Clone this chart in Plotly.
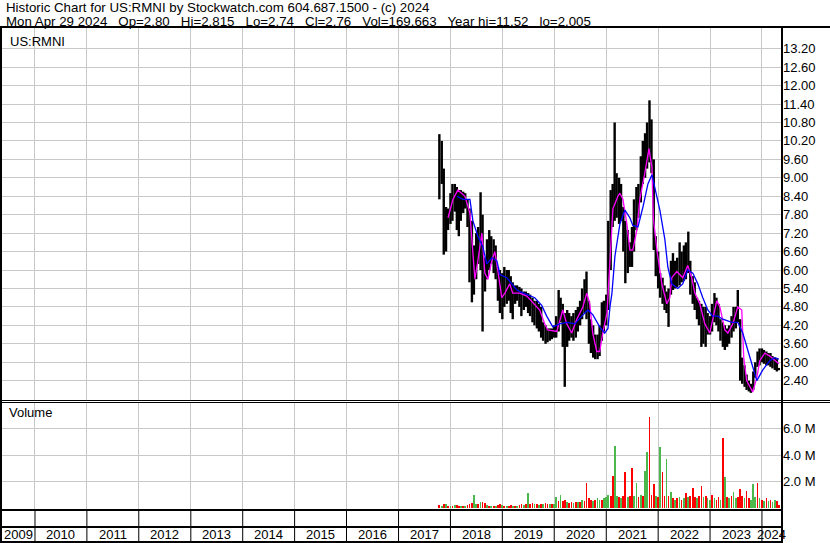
import plotly.graph_objects as go
import pandas as pd

W, H = 830, 543
FONT = "Liberation Sans, Arial, sans-serif"
GRID = "#c8c8c8"

# ---------------- data ----------------
DATES = [
    "2017-10-15", "2017-11-01", "2017-11-15", "2017-12-01", "2017-12-15",
    "2018-01-01", "2018-01-15", "2018-02-01", "2018-02-15", "2018-03-01", "2018-03-15",
    "2018-04-01", "2018-04-15", "2018-05-01", "2018-05-15", "2018-06-01", "2018-06-15",
    "2018-07-01", "2018-07-15", "2018-08-01", "2018-08-15", "2018-09-01", "2018-09-15",
    "2018-10-01", "2018-10-15", "2018-11-01", "2018-11-15", "2018-12-01", "2018-12-15",
    "2019-01-01", "2019-01-15", "2019-02-01", "2019-02-15", "2019-03-01", "2019-03-15",
    "2019-04-01", "2019-04-15", "2019-05-01", "2019-05-15", "2019-06-01", "2019-06-15",
    "2019-07-01", "2019-07-15", "2019-08-01", "2019-08-15", "2019-09-01", "2019-09-15",
    "2019-10-01", "2019-10-15", "2019-11-01", "2019-11-15", "2019-12-01", "2019-12-15",
    "2020-01-01", "2020-01-15", "2020-02-01", "2020-02-15", "2020-03-01", "2020-03-15",
    "2020-04-01", "2020-04-15", "2020-05-01", "2020-05-15", "2020-06-01", "2020-06-15",
    "2020-07-01", "2020-07-15", "2020-08-01", "2020-08-15", "2020-09-01", "2020-09-15",
    "2020-10-01", "2020-10-15", "2020-11-01", "2020-11-15", "2020-12-01", "2020-12-15",
    "2021-01-01", "2021-01-15", "2021-02-01", "2021-02-15", "2021-03-01", "2021-03-15",
    "2021-04-01", "2021-04-15", "2021-05-01", "2021-05-15", "2021-06-01", "2021-06-15",
    "2021-07-01", "2021-07-15", "2021-08-01", "2021-08-15", "2021-09-01", "2021-09-15",
    "2021-10-01", "2021-10-15", "2021-11-01", "2021-11-15", "2021-12-01", "2021-12-15",
    "2022-01-01", "2022-01-15", "2022-02-01", "2022-02-15", "2022-03-01", "2022-03-15",
    "2022-04-01", "2022-04-15", "2022-05-01", "2022-05-15", "2022-06-01", "2022-06-15",
    "2022-07-01", "2022-07-15", "2022-08-01", "2022-08-15", "2022-09-01", "2022-09-15",
    "2022-10-01", "2022-10-15", "2022-11-01", "2022-11-15", "2022-12-01", "2022-12-15",
    "2023-01-01", "2023-01-15", "2023-02-01", "2023-02-15", "2023-03-01", "2023-03-15",
    "2023-04-01", "2023-04-15", "2023-05-01", "2023-05-15", "2023-06-01", "2023-06-15",
    "2023-07-01", "2023-07-15", "2023-08-01", "2023-08-15", "2023-09-01", "2023-09-15",
    "2023-10-01", "2023-10-15", "2023-11-01", "2023-11-15", "2023-12-01", "2023-12-15",
    "2024-01-01", "2024-01-15", "2024-02-01", "2024-02-15", "2024-03-01", "2024-03-15",
    "2024-04-01", "2024-04-15", "2024-04-29",
]

HIGH = [
    10.42, 10.2, 9.3, 8.05, 8.0,
    8.5, 8.8, 8.8, 8.7, 8.6, 8.6, 8.55, 8.5, 8.3, 8.0, 7.6, 6.8,
    7.2, 7.4, 8.53, 7.8, 6.4, 7.0, 7.3, 7.1, 7.0, 6.8, 6.1, 6.0,
    5.9, 6.1, 6.0, 6.0, 5.8, 5.6, 5.5, 5.5, 5.45, 5.4, 5.3, 5.3,
    5.25, 5.2, 5.1, 5.0, 5.0, 4.9, 4.8, 4.3, 4.2, 4.1, 4.1, 4.1,
    4.2, 4.5, 5.35, 5.1, 4.9, 4.6, 4.7, 4.6, 4.5, 4.6, 4.7, 4.8,
    5.0, 5.4, 5.7, 5.95, 5.0, 4.4, 4.2, 3.9, 3.9, 4.2, 4.95, 5.0,
    5.2, 7.6, 8.6, 8.8, 10.8, 9.15, 9.0, 8.8, 8.05, 7.6, 7.3, 6.9,
    7.4, 8.3, 8.7, 8.8, 9.7, 10.2, 10.45, 10.8, 11.52, 10.9, 9.6, 7.1,
    6.6, 5.9, 5.75, 5.5, 5.3, 5.4, 6.3, 6.55, 6.3, 6.4, 6.9, 6.6,
    6.8, 6.9, 7.25, 6.3, 5.8, 5.6, 5.1, 5.0, 4.9, 4.8, 4.8, 4.6,
    4.5, 4.9, 5.25, 5.1, 4.9, 4.4, 4.3, 4.2, 4.1, 4.2, 4.5, 4.8,
    4.8, 5.35, 4.4, 3.15, 2.9, 2.6, 2.4, 2.3, 2.7, 3.0, 3.35, 3.45,
    3.45, 3.4, 3.35, 3.3, 3.3, 3.2, 3.15, 3.1, 2.815,
]

LOW = [
    8.3, 8.8, 6.5, 6.6, 7.3,
    7.5, 7.6, 7.9, 7.3, 7.1, 7.6, 7.85, 8.0, 7.4, 5.6, 4.95, 5.2,
    5.7, 6.2, 6.0, 4.0, 5.3, 5.7, 6.0, 6.2, 5.9, 5.7, 5.0, 4.6,
    4.4, 4.8, 4.9, 5.0, 4.6, 4.4, 4.9, 5.0, 4.8, 4.5, 4.7, 4.8,
    4.6, 4.5, 4.3, 4.2, 4.1, 4.0, 3.8, 3.7, 3.6, 3.65, 3.7, 3.75,
    3.8, 3.8, 4.0, 4.3, 3.5, 2.2, 3.5, 3.7, 3.8, 3.7, 3.8, 4.0,
    4.2, 4.4, 4.6, 4.4, 3.6, 3.3, 3.15, 3.1, 3.1, 3.2, 3.7, 4.0,
    4.2, 4.7, 6.0, 7.4, 7.6, 7.7, 7.5, 7.6, 6.6, 5.57, 5.9, 6.1,
    6.1, 6.6, 7.3, 7.7, 8.2, 8.8, 9.0, 9.3, 9.5, 9.15, 6.65, 5.8,
    5.4, 5.1, 4.9, 4.7, 4.6, 4.15, 5.2, 5.35, 5.4, 5.45, 5.5, 5.6,
    5.65, 5.7, 5.9, 5.2, 4.9, 4.7, 4.4, 4.2, 3.5, 3.6, 3.5, 3.9,
    3.9, 4.0, 4.3, 4.2, 4.0, 3.7, 3.5, 3.4, 3.5, 3.6, 3.8, 4.0,
    4.1, 4.3, 2.4, 2.3, 2.2, 2.1, 2.05, 2.005, 2.1, 2.5, 2.85, 2.9,
    3.0, 2.95, 2.9, 2.9, 2.85, 2.8, 2.75, 2.7, 2.74,
]

VOLUME_M = [
    0.20, 0.12, 0.25, 0.30, 0.15,
    0.12, 0.15, 0.18, 0.20, 0.15, 0.15, 0.12, 0.10, 0.20, 0.30, 0.35, 1.00,
    0.25, 0.30, 0.47, 0.40, 0.35, 0.20, 0.15, 0.15, 0.12, 0.15, 0.20, 0.25,
    0.20, 0.15, 0.15, 0.12, 0.20, 0.15, 0.12, 0.15, 0.20, 0.25, 0.20, 0.30,
    1.10, 0.30, 0.35, 0.25, 0.30, 0.20, 0.30, 0.25, 0.35, 0.25, 0.30, 0.30,
    0.30, 0.78, 0.50, 0.93, 0.50, 0.60, 0.45, 0.35, 0.40, 0.35, 0.45, 0.40,
    0.45, 0.60, 0.50, 1.90, 0.70, 0.55, 0.50, 0.60, 0.70, 0.55, 0.60, 0.70,
    0.80, 1.00, 0.90, 2.40, 4.70, 0.90, 0.80, 0.70, 0.90, 2.70, 0.80, 0.90,
    3.00, 0.90, 1.90, 0.80, 1.00, 0.90, 2.80, 4.20, 6.90, 1.00, 1.80, 0.90,
    0.80, 4.60, 2.70, 0.90, 3.70, 0.90, 1.20, 0.70, 0.60, 0.70, 0.80, 0.60,
    0.70, 1.10, 0.80, 0.90, 1.50, 0.80, 0.70, 0.90, 1.65, 0.80, 0.90, 0.70,
    0.60, 0.93, 0.70, 0.60, 0.80, 0.60, 5.30, 2.30, 0.80, 0.70, 0.90, 1.20,
    0.70, 0.80, 1.40, 0.90, 0.70, 1.30, 0.70, 0.60, 1.80, 0.80, 1.85, 0.70,
    0.60, 0.50, 0.70, 0.50, 0.60, 0.45, 0.60, 0.50, 0.17,
]

VOL_UP = [
    0, 1, 0, 1, 0,
    1, 0, 1, 0, 0, 1, 0, 1, 0, 0, 0, 1, 1, 0, 1, 0, 0, 1, 0, 1, 0, 1, 0, 0,
    1, 0, 1, 0, 0, 1, 0, 1, 0, 0, 1, 0, 1, 0, 0, 1, 0, 1, 0, 1, 0, 0, 1, 0,
    1, 1, 0, 1, 0, 0, 1, 0, 0, 1, 0, 1, 0, 1, 0, 0, 0, 0, 1, 0, 1, 1, 0, 1,
    1, 1, 0, 0, 1, 1, 0, 1, 0, 0, 1, 0, 0, 1, 1, 0, 1, 0, 1, 1, 0, 0, 0, 1,
    0, 1, 0, 0, 1, 0, 1, 0, 1, 0, 1, 0, 1, 0, 1, 0, 0, 0, 1, 0, 0, 1, 0, 1,
    1, 0, 1, 0, 0, 1, 0, 1, 0, 1, 0, 1, 1, 0, 0, 0, 1, 0, 0, 1, 1, 1, 0, 1,
    0, 1, 0, 1, 0, 1, 1, 0, 0,
]

MA_SHORT_DATES = [
    "2017-12-15", "2018-01-19", "2018-02-22", "2018-04-13", "2018-05-18", "2018-06-08",
    "2018-06-22", "2018-07-13", "2018-08-10", "2018-08-31", "2018-09-21", "2018-10-19",
    "2018-11-09", "2018-11-30", "2018-12-28", "2019-01-19", "2019-02-22", "2019-03-15",
    "2019-05-04", "2019-06-22", "2019-08-03", "2019-09-21", "2019-10-26", "2019-11-16",
    "2020-01-19", "2020-02-09", "2020-03-01", "2020-03-29", "2020-05-03", "2020-06-08",
    "2020-07-20", "2020-08-17", "2020-09-07", "2020-09-28", "2020-10-26", "2020-11-16",
    "2020-12-07", "2021-01-06", "2021-01-27", "2021-02-17", "2021-03-24", "2021-04-07",
    "2021-04-28", "2021-05-26", "2021-06-16", "2021-07-07", "2021-08-04", "2021-08-25",
    "2021-09-29", "2021-10-28", "2021-11-18", "2021-11-28", "2021-12-23", "2022-01-27",
    "2022-03-03", "2022-03-24", "2022-04-07", "2022-05-12", "2022-06-23", "2022-07-28",
    "2022-08-25", "2022-09-16", "2022-10-21", "2022-11-25", "2022-12-30", "2023-01-20",
    "2023-02-17", "2023-03-11", "2023-04-15", "2023-05-06", "2023-06-10", "2023-07-15",
    "2023-08-12", "2023-08-26", "2023-09-16", "2023-10-28", "2023-11-26", "2023-12-17",
    "2024-01-21", "2024-02-25", "2024-03-31", "2024-04-29",
]
MA_SHORT = [
    7.7, 8.3, 8.6, 8.4, 7.85, 6.55,
    5.7, 6.3, 7.2, 5.9, 5.7, 6.3,
    6.6, 6.0, 5.1, 5.25, 5.55, 5.25,
    5.25, 5.15, 4.95, 4.7, 4.25, 4.05,
    4.0, 4.4, 4.7, 4.25, 3.95, 4.4,
    4.8, 5.25, 4.9, 3.95, 3.35, 3.35,
    3.95, 4.6, 6.5, 8.0, 8.4, 8.5,
    8.3, 7.5, 6.65, 6.65, 7.3, 8.3,
    9.15, 9.95, 9.35, 7.7, 6.65, 5.55,
    4.9, 5.1, 5.75, 5.95, 5.75, 6.15,
    5.75, 5.25, 4.9, 4.25, 3.95, 4.4,
    5.0, 4.8, 4.05, 3.95, 4.25, 4.8,
    4.7, 3.15, 2.4, 2.03, 2.5, 3.05,
    3.3, 3.2, 3.05, 2.95,
]

MA_LONG_DATES = [
    "2018-02-16", "2018-03-30", "2018-05-18", "2018-06-08", "2018-07-13", "2018-08-17",
    "2018-09-14", "2018-10-19", "2018-11-24", "2018-12-15", "2019-02-01", "2019-03-08",
    "2019-04-13", "2019-05-04", "2019-06-22", "2019-08-17", "2019-10-05", "2019-11-09",
    "2019-12-22", "2020-02-09", "2020-03-29", "2020-05-25", "2020-07-13", "2020-08-24",
    "2020-09-28", "2020-11-16", "2020-12-21", "2021-01-13", "2021-01-27", "2021-02-10",
    "2021-03-03", "2021-04-07", "2021-05-12", "2021-06-16", "2021-07-07", "2021-08-12",
    "2021-09-16", "2021-10-21", "2021-11-18", "2021-12-23", "2022-01-13", "2022-02-17",
    "2022-03-10", "2022-04-07", "2022-05-19", "2022-06-23", "2022-07-28", "2022-09-02",
    "2022-10-07", "2022-11-11", "2022-12-16", "2023-01-20", "2023-02-24", "2023-04-01",
    "2023-06-03", "2023-07-15", "2023-08-19", "2023-09-23", "2023-10-28", "2023-11-26",
    "2024-01-07", "2024-02-25", "2024-03-31", "2024-04-29",
]
MA_LONG = [
    8.4, 8.3, 8.3, 7.6, 7.1, 6.75,
    6.2, 6.4, 6.3, 5.85, 5.75, 5.55,
    5.35, 5.3, 5.2, 5.1, 4.85, 4.5,
    4.15, 4.25, 4.3, 4.25, 4.5, 4.7,
    4.55, 4.15, 3.95, 4.1, 4.8, 5.25,
    6.45, 7.5, 7.95, 7.7, 7.45, 7.4,
    8.05, 8.8, 9.1, 8.4, 7.95, 7.0,
    6.1, 5.55, 5.4, 5.55, 6.0, 5.9,
    5.55, 5.1, 4.7, 4.5, 4.5, 4.4,
    4.3, 4.3, 3.95, 3.4, 2.85, 2.4,
    2.75, 3.05, 3.15, 3.1,
]

PRICE_TICKS = [2.4, 3.0, 3.6, 4.2, 4.8, 5.4, 6.0, 6.6, 7.2, 7.8, 8.4, 9.0,
               9.6, 10.2, 10.8, 11.4, 12.0, 12.6, 13.2]
VOL_TICKS = [2.0, 4.0, 6.0]
VOL_TICK_TEXT = ["2.0 M", "4.0 M", "6.0 M"]
YEAR_BOUNDARIES = ["2010-01-01", "2011-01-01", "2012-01-01", "2013-01-01", "2014-01-01",
                   "2015-01-01", "2016-01-01", "2017-01-01", "2018-01-01", "2019-01-01",
                   "2020-01-01", "2021-01-01", "2022-01-01", "2023-01-01", "2024-01-01"]
YEAR_LABELS = ["2009", "2010", "2011", "2012", "2013", "2014", "2015", "2016",
               "2017", "2018", "2019", "2020", "2021", "2022", "2023", "2024"]
X_RANGE = ["2009-05-14", "2024-05-21"]

SP = "\u00a0\u00a0 "
HEADER_1 = "Historic Chart for US:RMNI by Stockwatch.com 604.687.1500 - (c) 2024"
HEADER_2 = ("Mon Apr 29 2024" + SP + "Op=2.80" + SP + "Hi=2.815" + SP + "Lo=2.74" + SP +
            "Cl=2.76" + SP + "Vol=169,663" + SP + "Year hi=11.52" + SP + "lo=2.005")
SYMBOL = "US:RMNI"
VOL_TITLE = "Volume"


# ---------------- helpers: pixel -> paper ----------------
def px(x):
    return x / W


def py(y):
    return 1 - y / H


# ---------------- traces ----------------
bar_x, bar_y = [], []
for d, hi, lo in zip(DATES, HIGH, LOW):
    bar_x += [d, d, None]
    bar_y += [lo, hi, None]

fig = go.Figure()
fig.add_trace(go.Scatter(x=bar_x, y=bar_y, mode="lines", connectgaps=False,
                         line=dict(color="black", width=2.4),
                         xaxis="x", yaxis="y", hoverinfo="skip"))
fig.add_trace(go.Scatter(x=MA_SHORT_DATES, y=MA_SHORT, mode="lines",
                         line=dict(color="#ff00ff", width=1.3),
                         xaxis="x", yaxis="y", hoverinfo="skip"))
fig.add_trace(go.Scatter(x=MA_LONG_DATES, y=MA_LONG, mode="lines",
                         line=dict(color="#0000ff", width=1.3),
                         xaxis="x", yaxis="y", hoverinfo="skip"))
fig.add_trace(go.Bar(x=DATES, y=VOLUME_M,
                     marker=dict(color=["#4cb84c" if u else "#ff0000" for u in VOL_UP],
                                 line=dict(width=0)),
                     width=12 * 86400000, xaxis="x2", yaxis="y2", hoverinfo="skip"))

# ---------------- axes ----------------
xcommon = dict(domain=[px(2), px(782)], range=X_RANGE, type="date",
               tickvals=YEAR_BOUNDARIES, showticklabels=False, ticks="",
               showgrid=True, gridcolor=GRID, gridwidth=1, zeroline=False,
               showline=False, fixedrange=True)

fig.update_layout(
    width=W, height=H,
    margin=dict(l=0, r=0, t=0, b=0),
    paper_bgcolor="white", plot_bgcolor="white",
    showlegend=False, hovermode=False, bargap=0,
    font=dict(family=FONT, size=13, color="black"),
    xaxis=dict(**xcommon, anchor="y"),
    xaxis2=dict(**xcommon, anchor="y2"),
    yaxis=dict(domain=[py(400), py(28)], range=[1.772, 13.873], side="right",
               anchor="x", tickvals=PRICE_TICKS,
               ticktext=[f"{v:.2f}" for v in PRICE_TICKS],
               showgrid=True, gridcolor=GRID, gridwidth=1, zeroline=False,
               ticks="", showline=False, fixedrange=True,
               tickfont=dict(family=FONT, size=13, color="black")),
    yaxis2=dict(domain=[py(509), py(403)], range=[-0.099, 7.956], side="right",
                anchor="x2", tickvals=VOL_TICKS, ticktext=VOL_TICK_TEXT,
                showgrid=True, gridcolor=GRID, gridwidth=1, zeroline=False,
                ticks="", showline=False, fixedrange=True,
                tickfont=dict(family=FONT, size=13, color="black")),
)

# ---------------- frame shapes ----------------
shapes = []


def hline(y, x0, x1, w):
    shapes.append(dict(type="line", xref="paper", yref="paper",
                       x0=px(x0), x1=px(x1), y0=py(y), y1=py(y),
                       line=dict(color="black", width=w)))


def vline(x, y0, y1, w):
    shapes.append(dict(type="line", xref="paper", yref="paper",
                       x0=px(x), x1=px(x), y0=py(y0), y1=py(y1),
                       line=dict(color="black", width=w)))


hline(27, 0, 830, 2)
vline(1, 26, 543, 2)
vline(782, 26, 543, 2)
hline(400.5, 0, 830, 1)
hline(402.5, 0, 830, 1)
hline(510, 0, 783, 2)
hline(527, 0, 783, 2)
hline(542, 0, 783, 2)
for b in YEAR_BOUNDARIES:
    shapes.append(dict(type="line", xref="x", yref="paper", x0=b, x1=b,
                       y0=py(511), y1=py(541), line=dict(color="black", width=1)))
fig.update_layout(shapes=shapes)

# ---------------- annotations ----------------
ann = []
edges = [pd.Timestamp(X_RANGE[0])] + [pd.Timestamp(b) for b in YEAR_BOUNDARIES] + [pd.Timestamp(X_RANGE[1])]
for lab, a, b in zip(YEAR_LABELS, edges[:-1], edges[1:]):
    mid = a + (b - a) / 2
    ann.append(dict(x=mid.strftime("%Y-%m-%d %H:%M"), xref="x", y=py(534), yref="paper",
                    text=lab, showarrow=False, xanchor="center", yanchor="middle",
                    font=dict(family=FONT, size=13, color="black")))

ann.append(dict(x=px(4), y=py(7.5), xref="paper", yref="paper", text=HEADER_1,
                showarrow=False, xanchor="left", yanchor="middle",
                font=dict(family=FONT, size=13.3, color="black")))
ann.append(dict(x=px(4), y=py(21.5), xref="paper", yref="paper", text=HEADER_2,
                showarrow=False, xanchor="left", yanchor="middle",
                font=dict(family=FONT, size=13.3, color="black")))
ann.append(dict(x=px(8), y=py(41), xref="paper", yref="paper", text=SYMBOL,
                showarrow=False, xanchor="left", yanchor="middle",
                font=dict(family=FONT, size=13, color="black")))
ann.append(dict(x=px(7), y=py(413), xref="paper", yref="paper", text=VOL_TITLE,
                showarrow=False, xanchor="left", yanchor="middle",
                font=dict(family=FONT, size=13, color="black")))
fig.update_layout(annotations=ann)

fig.write_html("out.html",
               config={"displayModeBar": False, "staticPlot": True},
               post_script="document.body.style.margin='0';document.body.style.overflow='hidden';")
